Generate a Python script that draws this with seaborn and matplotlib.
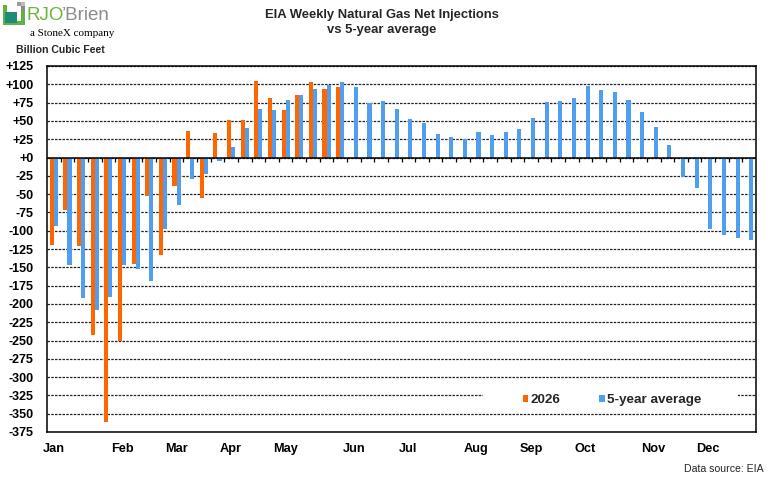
import numpy as np
import pandas as pd
import matplotlib
matplotlib.use("Agg")
import matplotlib.pyplot as plt
from matplotlib.patches import Patch, Rectangle
import seaborn as sns

# ---------------- data ----------------
weeks = list(range(1, 53))
inj_2026 = [-119, -72, -121, -242, -361, -250, -146, -52, -133, -39, 36, -56,
            33, 51, 51, 104, 81, 65, 86, 103, 93, 96]
avg_5yr = [-93, -147, -192, -209, -190, -147, -153, -169, -97, -65,
           -30, -23, -5, 14, 40, 66, 65, 78, 85, 93,
           99, 103, 96, 75, 77, 66, 52, 47, 32, 28,
           25, 35, 31, 35, 39, 54, 76, 77, 81, 97,
           92, 89, 78, 62, 41, 17, -26, -41, -97, -106,
           -110, -113]
series_names = ["2026", "5-year average"]
series_colors = ["#FF6600", "#4F9EF0"]
month_labels = ["Jan", "Feb", "Mar", "Apr", "May", "Jun",
                "Jul", "Aug", "Sep", "Oct", "Nov", "Dec"]
month_week_idx = [0, 5, 9, 13, 17, 22, 26, 31, 35, 39, 44, 48]
y_ticks = list(range(-375, 126, 25))

# long-format table
vals_2026 = inj_2026 + [np.nan] * (len(weeks) - len(inj_2026))
df = pd.DataFrame({
    "week": weeks * 2,
    "value": vals_2026 + avg_5yr,
    "series": [series_names[0]] * len(weeks) + [series_names[1]] * len(weeks),
})

# ---------------- style ----------------
sns.set_theme(style="white")
plt.rcParams["font.family"] = ["Liberation Sans", "DejaVu Sans"]

W, H = 773, 487
fig = plt.figure(figsize=(W / 100, H / 100), dpi=100)
ax = fig.add_axes([47 / W, (H - 432) / H, 709 / W, 366 / H])

sns.barplot(data=df, x="week", y="value", hue="series", order=weeks,
            hue_order=series_names, palette=series_colors, width=0.6,
            saturation=1, linewidth=0, legend=False, ax=ax, zorder=3)

ax.set_xlim(-0.5, len(weeks) - 0.5)
ax.set_ylim(-375, 125)

# grid lines
ax.set_yticks(y_ticks)
ax.set_yticklabels([f"{v:+d}" for v in y_ticks], fontsize=9, fontweight="bold")
ax.yaxis.grid(True, linestyle=(0, (2, 1)), color="#222222", linewidth=0.9)
ax.set_axisbelow(True)
ax.tick_params(axis="y", length=0, pad=9.5, colors="black")

ax.set_xticks(month_week_idx)
ax.set_xticklabels(month_labels, fontsize=9.2, fontweight="bold")
ax.tick_params(axis="x", length=0, pad=8, colors="black")
ax.set_xlabel("")
ax.set_ylabel("")

for s in ax.spines.values():
    s.set_visible(True)
    s.set_color("black")
    s.set_linewidth(1.1)

# zero line with category tick marks
ax.axhline(0, color="black", linewidth=1.1, zorder=4)
ax.vlines(np.arange(len(weeks) - 1) + 0.5, -5.5, 0, color="black",
          linewidth=0.9, zorder=4)

# legend (white backing over gridline)
ax.add_patch(Rectangle((0.615, 0.058), 0.36, 0.058, transform=ax.transAxes,
                       facecolor="white", edgecolor="none", zorder=2))
handles = [Patch(facecolor=c, edgecolor="none") for c in series_colors]
leg = ax.legend(handles, series_names, loc="center left",
                bbox_to_anchor=(0.671, 0.087), ncol=2, frameon=False,
                handlelength=0.42, handleheight=0.42, handletextpad=0.15,
                columnspacing=2.9, borderpad=0, borderaxespad=0,
                prop={"weight": "bold", "size": 9.7})
leg.set_zorder(5)

# ---------------- texts ----------------
fig.text(382 / W, 1 - 15 / H, "EIA Weekly Natural Gas Net Injections",
         ha="center", va="center", fontsize=9.4, fontweight="bold")
fig.text(382 / W, 1 - 30.5 / H, "vs 5-year average",
         ha="center", va="center", fontsize=9.4, fontweight="bold")
fig.text(16 / W, 1 - 50 / H, "Billion Cubic Feet", ha="left", va="center",
         fontsize=7.6, fontweight="bold")
fig.text(764 / W, 1 - 469 / H, "Data source: EIA", ha="right", va="center",
         fontsize=7.6)

# ---------------- logo ----------------
lax = fig.add_axes([0, 0, 1, 1], zorder=-1)
lax.set_xlim(0, W)
lax.set_ylim(H, 0)
lax.axis("off")
lax.add_patch(Rectangle((3, 5), 22, 20, facecolor="#5FB246", edgecolor="none"))
lax.add_patch(Rectangle((7, 5), 14, 16, facecolor="white", edgecolor="none"))
lax.add_patch(Rectangle((5, 12), 12, 11, facecolor="#1F8C7A", edgecolor="none"))
lax.add_patch(Rectangle((17, 2), 4, 4, facecolor="#9A9A9A", edgecolor="none"))
lax.add_patch(Rectangle((21, 2), 4, 4, facecolor="#BDBDBD", edgecolor="none"))
lax.add_patch(Rectangle((21, 6), 4, 5, facecolor="#8A8A8A", edgecolor="none"))
lax.text(27, 15, "RJO", color="#6BB43F", fontsize=13.5, ha="left", va="center")
lax.text(62, 15, "\u2019Brien", color="#8C8C8C", fontsize=13.5, ha="left",
         va="center")
lax.text(30, 34, "a StoneX company", color="black", fontsize=8,
         family=["Liberation Serif", "DejaVu Serif"], ha="left", va="center")

fig.savefig("out.png", dpi=100)
